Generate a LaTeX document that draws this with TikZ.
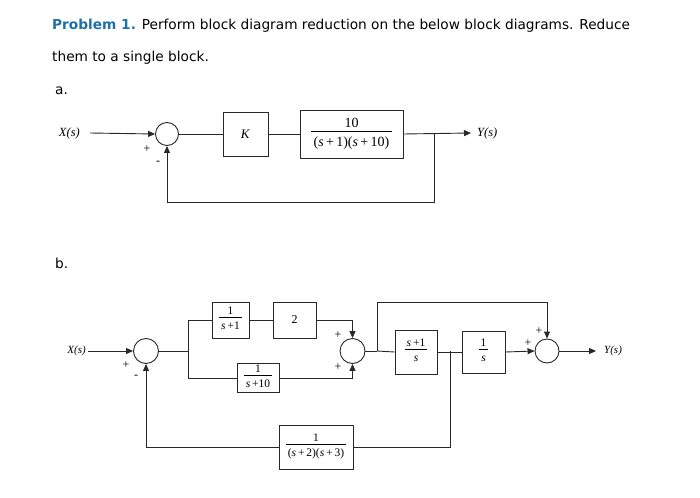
\documentclass[tikz,border=0pt]{standalone}
\usepackage{fontspec}
\setmainfont{Liberation Serif}
\newfontfamily\titlefont{DejaVu Sans}
\usetikzlibrary{arrows.meta}
\definecolor{probblue}{RGB}{30,112,168}
\definecolor{ink}{RGB}{40,40,40}
\newcommand{\myfr}[2]{\begin{tabular}{@{\,}c@{\,}}#1\\[-1pt]\hline\rule{0pt}{1.05em}#2\end{tabular}}
\newcommand{\sv}{\textit{s}}
\begin{document}
\begin{tikzpicture}[x=1pt,y=-1pt,
  wire/.style={draw=ink,line width=0.9pt},
  arr/.style={wire,-{Triangle[length=7pt,width=6pt]}},
  blk/.style={draw=ink,line width=0.9pt,inner sep=0pt},
  sumc/.style={circle,draw=ink,line width=0.9pt,inner sep=0pt},
  txt/.style={inner sep=0pt,font=\titlefont\fontsize{13.7}{16}\selectfont,anchor=base west},
  sgn/.style={inner sep=0pt,font=\fontsize{12}{13}\selectfont}]
\useasboundingbox (0,0) rectangle (700,497);
% title
\node[txt] (t1) at (52,30) {\textcolor{probblue}{\bfseries Problem 1.} Perform block diagram reduction on the below block diagrams. Reduce};
\node[txt] (t2) at (52,62) {them to a single block.};
\node[txt] (ta) at (55,95) {a.};
\node[txt] (tb) at (55,268) {b.};
% ---------- diagram a
\node[inner sep=0pt,anchor=east,font=\fontsize{12.5}{14}\selectfont] (Xa) at (80,133) {\textit{X(s)}};
\node[sumc,minimum size=23pt] (sa) at (167,134) {};
\node[blk,minimum width=45pt,minimum height=44pt,font=\fontsize{13}{14}\selectfont] (K) at (245.5,134) {\textit{K}};
\node[blk,minimum width=103pt,minimum height=48pt,font=\fontsize{14}{15}\selectfont] (G) at (351.5,134) {\myfr{10}{(\sv\,+\,1)(\sv\,+\,10)}};
\node[inner sep=0pt,anchor=west,font=\fontsize{12.5}{14}\selectfont] (Ya) at (477,133) {\textit{Y(s)}};
\coordinate (ba) at (434,134);
\coordinate (fa) at (434,202);
\draw[arr] ([xshift=10pt]Xa.east) -- (sa.west);
\draw[wire] (sa.east) -- (K.west);
\draw[wire] (K.east) -- (G.west);
\draw[arr] (G.east) -- ([xshift=-6pt]Ya.west);
\draw[arr] (ba) -- (fa) -| (sa.south);
\node[sgn] (pa1) at (147,149) {+};
\node[sgn] (ma1) at (158,163) {-};
% ---------- diagram b
\node[inner sep=0pt,anchor=east,font=\fontsize{11}{12}\selectfont] (Xb) at (86,351) {\textit{X(s)}};
\node[sumc,minimum size=25pt] (s1) at (146,351) {};
\coordinate (b1) at (188,351);
\node[blk,minimum width=37pt,minimum height=36pt,font=\fontsize{11.5}{12}\selectfont] (A) at (230.5,320) {\myfr{1}{\sv\,+1}};
\node[blk,minimum width=43pt,minimum height=36pt,font=\fontsize{12}{13}\selectfont] (B) at (294.5,320) {2};
\node[blk,minimum width=42pt,minimum height=29pt,font=\fontsize{11.5}{12}\selectfont] (C) at (258,378) {\myfr{1}{\sv\,+10}};
\node[sumc,minimum size=25pt] (s2) at (352.5,351) {};
\coordinate (b2) at (377,351);
\coordinate (b2t) at (377,302);
\node[blk,minimum width=42pt,minimum height=44pt,font=\fontsize{11.5}{12}\selectfont] (D) at (416,352) {\myfr{\sv\,+1}{\sv}};
\coordinate (b3) at (450,351);
\node[blk,minimum width=43pt,minimum height=42pt,font=\fontsize{11.5}{12}\selectfont] (E) at (483.5,352) {\myfr{1}{\sv}};
\node[sumc,minimum size=24pt] (s3) at (547,351) {};
\node[inner sep=0pt,anchor=west,font=\fontsize{11}{12}\selectfont] (Yb) at (604,351) {\textit{Y(s)}};
\node[blk,minimum width=74pt,minimum height=44pt,font=\fontsize{11.5}{12}\selectfont] (F) at (316,447) {\myfr{1}{(\sv\,+\,2)(\sv\,+\,3)}};
\coordinate (fb1) at (450,447);
\coordinate (fb2) at (146,447);
\draw[arr] ([xshift=2pt]Xb.east) -- (s1.west);
\draw[wire] (s1.east) -- (b1);
\draw[wire] (b1) |- (A.west);
\draw[wire] (A.east) -- (B.west);
\draw[arr] (B.east) -| (s2.north);
\draw[wire] (b1) |- (C.west);
\draw[arr] (C.east) -| (s2.south);
\draw[wire] (s2.east) -- (b2);
\draw[wire] (b2) -- (D.west);
\draw[arr] (b2) -- (b2t) -| (s3.north);
\draw[wire] (D.east) -- (E.west);
\draw[arr] (E.east) -- (s3.west);
\draw[arr] (s3.east) -- ([xshift=-8pt]Yb.west);
\draw[wire] (b3) -- (fb1) -- (F.east);
\draw[arr] (F.west) -- (fb2) -- (s1.south);
\node[sgn] (p1) at (126,365) {+};
\node[sgn] (m1) at (136,377) {-};
\node[sgn] (p2) at (338,335) {+};
\node[sgn] (p3) at (338,367) {+};
\node[sgn] (p4) at (539,331) {+};
\node[sgn] (p5) at (528,343) {+};
\end{tikzpicture}
\end{document}
